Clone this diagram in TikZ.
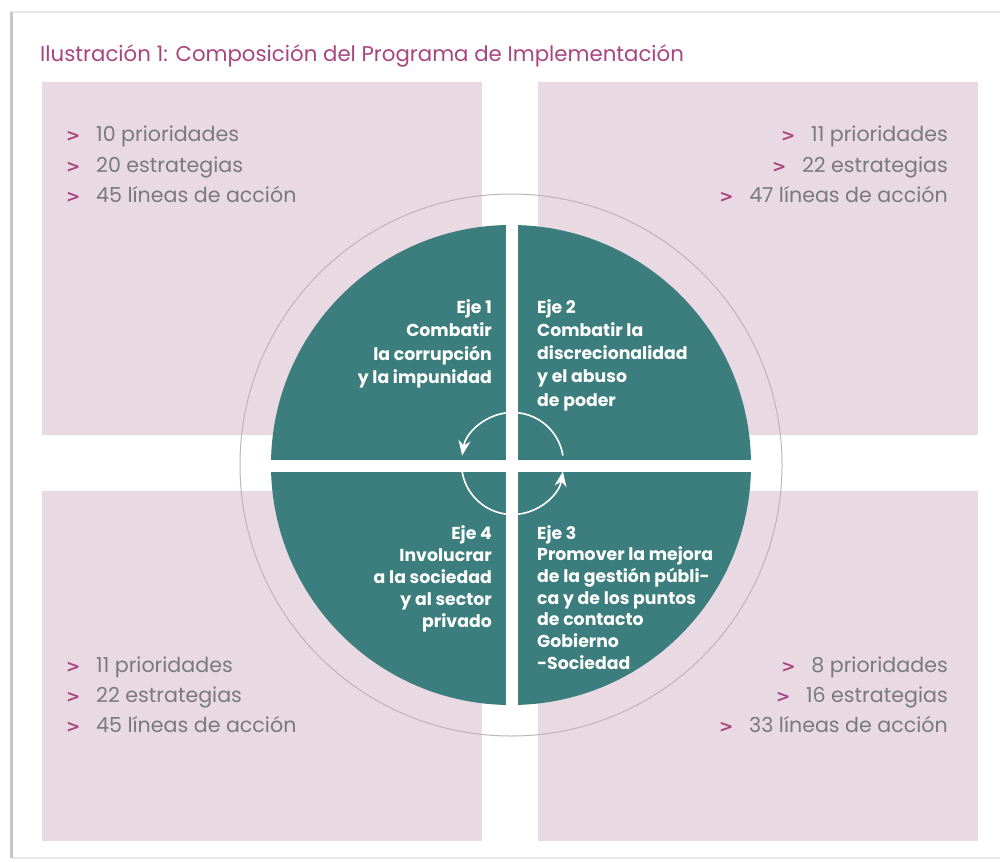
\documentclass[tikz,border=0pt]{standalone}
\usepackage{fontspec}
\setmainfont{Poppins}
\newfontfamily\gtfont{DejaVu Sans}
\usetikzlibrary{arrows.meta}
\definecolor{pinkbg}{HTML}{E9D9E3}
\definecolor{ejeteal}{HTML}{3B7E7D}
\definecolor{mag}{HTML}{A8447F}
\definecolor{graytxt}{HTML}{7A7A7A}
\definecolor{ringgray}{HTML}{BDB4BA}
\newcommand\gtmark{\makebox[30pt][l]{\textcolor{mag}{\gtfont\bfseries\fontsize{17}{18}\selectfont >}}}
\tikzset{
  quad/.style={fill=pinkbg},
  listL/.style={anchor=base west, inner sep=0pt, text=graytxt, font=\fontsize{20.6}{22}\selectfont},
  listR/.style={anchor=base east, inner sep=0pt, text=graytxt, font=\fontsize{20.6}{22}\selectfont},
  ejeR/.style={anchor=base east, inner sep=0pt, text=white, font=\bfseries\fontsize{17.3}{18}\selectfont},
  ejeL/.style={anchor=base west, inner sep=0pt, text=white, font=\bfseries\fontsize{17.3}{18}\selectfont},
  cyc/.style={draw=white, line width=1.6pt, -{Stealth[length=15pt,width=12pt]}},
  shadowline/.style={line width=3pt, draw=black!22},
  frameline/.style={line width=1.5pt, draw=black!9},
}
\begin{document}
\begin{tikzpicture}[x=1pt,y=-1pt]
\useasboundingbox (0,0) rectangle (1000,861);
% page frame
\draw[frameline] (1000,12) -- (11,12);
\draw[frameline] (11,858) -- (1000,858);
\draw[shadowline] (11,12) -- (11,858);
% quadrants
\fill[quad] (42,82) rectangle (482,435);
\fill[quad] (538,82) rectangle (978,435);
\fill[quad] (42,491) rectangle (482,841);
\fill[quad] (538,491) rectangle (978,841);
% title
\node[anchor=base west, inner sep=0pt, text=mag, font=\fontsize{21.3}{24}\selectfont] (title) at (40,62) {Ilustración 1: Composición del Programa de Implementación};
% outer ring
\coordinate (c) at (511,465);
\draw[ringgray, line width=1pt] (c) circle (271pt);
% teal disc
\fill[ejeteal] (c) circle (240pt);
\fill[white] (505.5,220) rectangle (517.5,710);
\fill[white] (266,460) rectangle (756,471.5);
% cycle arrows
\begin{scope}[shift={(512.5,463.5)}, x=1pt, y=1pt]
  \draw[cyc] (9:51) arc[start angle=9, end angle=171, radius=51];
  \draw[cyc] (189:51) arc[start angle=189, end angle=351, radius=51];
\end{scope}
% lists
\foreach \t [count=\i from 0] in {10 prioridades, 20 estrategias, 45 líneas de acción}
  \node[listL] (tl\i) at (66,{142+30*\i}) {\gtmark\t};
\foreach \t [count=\i from 0] in {11 prioridades, 22 estrategias, 47 líneas de acción}
  \node[listR] (tr\i) at (948,{142+30*\i}) {\gtmark\t};
\foreach \t [count=\i from 0] in {11 prioridades, 22 estrategias, 45 líneas de acción}
  \node[listL] (bl\i) at (66,{672+30*\i}) {\gtmark\t};
\foreach \t [count=\i from 0] in {8 prioridades, 16 estrategias, 33 líneas de acción}
  \node[listR] (br\i) at (948,{672+30*\i}) {\gtmark\t};
% axes text
\foreach \t [count=\i from 0] in {Eje 1, Combatir, la corrupción, y la impunidad}
  \node[ejeR] (ea\i) at (492,{313+23.5*\i}) {\t};
\foreach \t [count=\i from 0] in {Eje 2, Combatir la, discrecionalidad, y el abuso, de poder}
  \node[ejeL] (eb\i) at (537,{313+23.3*\i}) {\t};
\foreach \t [count=\i from 0] in {Eje 3, Promover la mejora, de la gestión públi-, ca y de los puntos, de contacto, Gobierno, -Sociedad}
  \node[ejeL] (ec\i) at (537,{539+21.7*\i}) {\t};
\foreach \t [count=\i from 0] in {Eje 4, Involucrar, a la sociedad, y al sector, privado}
  \node[ejeR] (ed\i) at (492,{539+22*\i}) {\t};
\end{tikzpicture}
\end{document}
